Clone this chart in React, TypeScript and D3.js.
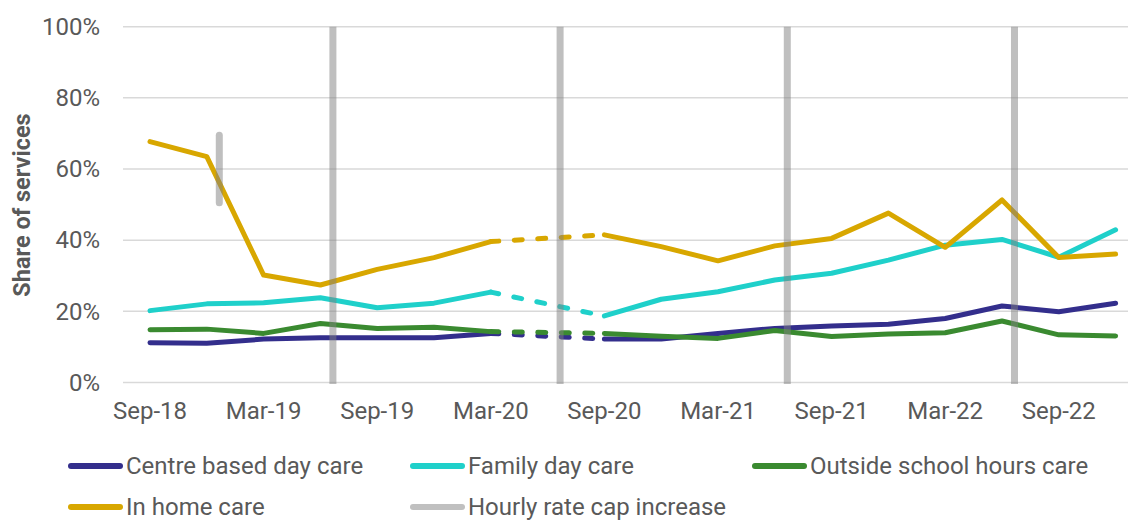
import React from "react";
import * as d3 from "d3";

const quarters = ["Sep-18","Dec-18","Mar-19","Jun-19","Sep-19","Dec-19","Mar-20","Jun-20","Sep-20","Dec-20","Mar-21","Jun-21","Sep-21","Dec-21","Mar-22","Jun-22","Sep-22","Dec-22"];
const tickLabels = ["Sep-18","Mar-19","Sep-19","Mar-20","Sep-20","Mar-21","Sep-21","Mar-22","Sep-22"];
const yTicks = [0, 20, 40, 60, 80, 100];

const centreBased = [11.2, 11.0, 12.2, 12.6, 12.6, 12.6, 13.8, null, 12.2, 12.2, 13.8, 15.2, 15.9, 16.4, 18.0, 21.5, 19.9, 22.3];
const familyDay = [20.2, 22.1, 22.4, 23.8, 21.0, 22.3, 25.4, null, 18.7, 23.4, 25.5, 28.8, 30.7, 34.4, 38.6, 40.2, 35.2, 42.9];
const outsideSchool = [14.8, 15.0, 13.8, 16.6, 15.2, 15.5, 14.3, null, 13.8, 13.0, 12.4, 14.6, 12.9, 13.6, 14.0, 17.3, 13.4, 13.1];
const inHome = [67.7, 63.5, 30.2, 27.4, 31.8, 35.1, 39.6, null, 41.5, 38.2, 34.2, 38.4, 40.5, 47.6, 38.0, 51.3, 35.1, 36.1];

// Hourly rate cap increases (position as fractional quarter index)
const capIncreaseFull = [3.22, 7.22, 11.22, 15.22];
const capIncreaseInHome = { at: 1.22, from: 50.5, to: 69.5 };

const seriesNames = ["Centre based day care", "Family day care", "Outside school hours care", "In home care"];
const seriesColors = ["#332e8c", "#1fd0ca", "#3a8a30", "#d8a700"];
const seriesData = [centreBased, familyDay, outsideSchool, inHome];

export default function App() {
  const W = 1131, H = 521;
  const x = d3.scaleLinear().domain([0, quarters.length - 1]).range([150, 1115.6]);
  const y = d3.scaleLinear().domain([0, 100]).range([382.5, 26.7]);
  const line = d3.line<number | null>()
    .defined((d) => d != null)
    .x((_, i) => x(i))
    .y((d) => y(d as number));

  const textColor = "#595959";
  const font = "Roboto, sans-serif";
  const fs = 24;

  return (
    <svg width={W} height={H} style={{ position: "absolute", left: 0, top: 0, background: "#fff" }} fontFamily={font}>
      {yTicks.map((t) => (
        <g key={t}>
          <line x1={123} x2={1128} y1={y(t)} y2={y(t)} stroke="#d9d9d9" strokeWidth={1.5} />
          <text x={100} y={y(t) + 8.3} textAnchor="end" fontSize={fs} fill={textColor}>{t}%</text>
        </g>
      ))}
      {quarters.map((q, i) =>
        tickLabels.includes(q) ? (
          <text key={q} x={x(i)} y={419} textAnchor="middle" fontSize={fs} fill={textColor}>{q}</text>
        ) : null
      )}
      <text transform={`translate(29.5,205) rotate(-90)`} textAnchor="middle" fontSize={23.5} fontWeight="bold" fill={textColor}>Share of services</text>

      {seriesData.map((data, si) => {
        const gapStart = data.findIndex((d) => d == null) - 1;
        const gapEnd = gapStart + 2;
        return (
          <g key={si}>
            <path d={line(data) || ""} fill="none" stroke={seriesColors[si]} strokeWidth={5} strokeLinecap="round" strokeLinejoin="round" />
            <line x1={x(gapStart)} y1={y(data[gapStart] as number)} x2={x(gapEnd)} y2={y(data[gapEnd] as number)}
              stroke={seriesColors[si]} strokeWidth={5} strokeLinecap="round" strokeDasharray="8,15.5" />
          </g>
        );
      })}

      {capIncreaseFull.map((c, i) => (
        <line key={i} x1={x(c)} x2={x(c)} y1={y(0) + 1.5} y2={y(100)} stroke="rgb(128,128,128)" strokeOpacity={0.5} strokeWidth={7} />
      ))}
      <line x1={x(capIncreaseInHome.at)} x2={x(capIncreaseInHome.at)} y1={y(capIncreaseInHome.from)} y2={y(capIncreaseInHome.to)}
        stroke="rgb(128,128,128)" strokeOpacity={0.5} strokeWidth={7} strokeLinecap="round" />

      {[
        { name: seriesNames[0], color: seriesColors[0], x0: 68, y0: 466 },
        { name: seriesNames[1], color: seriesColors[1], x0: 410, y0: 466 },
        { name: seriesNames[2], color: seriesColors[2], x0: 752, y0: 466 },
        { name: seriesNames[3], color: seriesColors[3], x0: 68, y0: 507 },
        { name: "Hourly rate cap increase", color: "#c0c0c0", x0: 410, y0: 507 },
      ].map((l) => (
        <g key={l.name}>
          <line x1={l.x0 + 3} x2={l.x0 + 52} y1={l.y0} y2={l.y0} stroke={l.color} strokeWidth={6} strokeLinecap="round" />
          <text x={l.x0 + 58} y={l.y0 + 8} fontSize={fs} fill={textColor}>{l.name}</text>
        </g>
      ))}
    </svg>
  );
}
